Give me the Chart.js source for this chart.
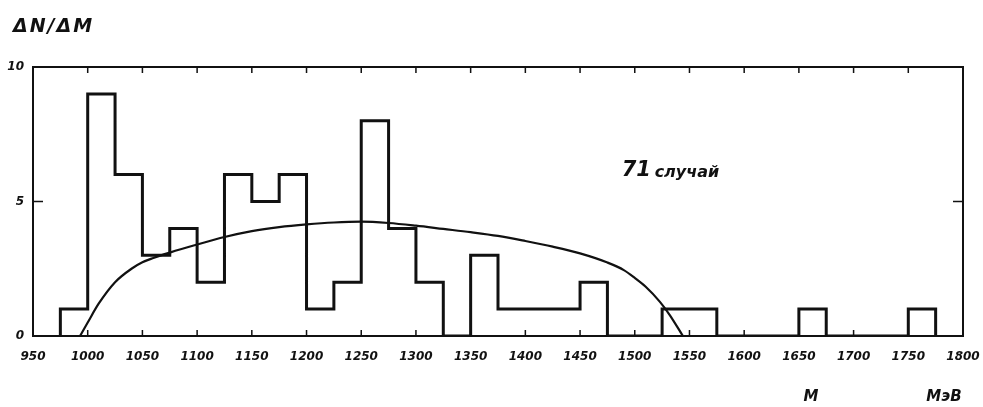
<!DOCTYPE html>
<html>
<head>
<meta charset="utf-8">
<script src="https://cdn.jsdelivr.net/npm/chart.js@4/dist/chart.umd.min.js"></script>
<style>
  body { margin: 0; background: #fff; }
</style>
</head>
<body>
<canvas id="chart" width="983" height="407"></canvas>
<script>
// histogram bin edges (MeV) and number of events per bin
const binEdges = [975, 1000, 1025, 1050, 1075, 1100, 1125, 1150, 1175, 1200, 1225, 1250, 1275, 1300, 1325, 1350,
  1375, 1400, 1425, 1450, 1475, 1500, 1525, 1550, 1575, 1600, 1625, 1650, 1675, 1700, 1725, 1750, 1775];
const binCounts = [1, 9, 6, 3, 4, 2, 6, 5, 6, 1, 2, 8, 4, 2, 0, 3,
  1, 1, 1, 2, 0, 0, 1, 1, 0, 0, 0, 1, 0, 0, 0, 1];

// phase space curve
const curveMass = [993, 1000, 1010, 1025, 1040, 1050, 1060, 1075, 1100, 1125, 1150, 1175, 1200, 1225, 1250,
  1275, 1300, 1325, 1350, 1375, 1400, 1425, 1450, 1475, 1490, 1500, 1510, 1523, 1532, 1544];
const curveValue = [0, 0.5, 1.2, 2.0, 2.5, 2.74, 2.9, 3.1, 3.4, 3.68, 3.9, 4.05, 4.15, 4.22, 4.25,
  4.2, 4.1, 3.98, 3.86, 3.72, 3.53, 3.32, 3.07, 2.73, 2.45, 2.16, 1.83, 1.27, 0.78, 0];

const yTicks = [0, 5, 10];
const xTickLabels = ['950', '1000', '1050', '1100', '1150', '1200', '1250', '1300', '1350',
  '1400', '1450', '1500', '1550', '1600', '1650', '1700', '1750', '1800'];

const ink = '#111';
const labelFont = { family: '"DejaVu Sans"', size: 12, style: 'italic', weight: 'bold' };

const histPoints = [{ x: binEdges[0], y: 0 }];
binCounts.forEach((c, i) => histPoints.push({ x: binEdges[i], y: c }));
histPoints.push({ x: binEdges[binEdges.length - 1], y: 0 });

const curvePoints = curveMass.map((m, i) => ({ x: m, y: curveValue[i] }));

// frame, inward ticks and the hand-lettered captions
const decor = {
  id: 'decor',
  afterDraw(chart) {
    const { ctx, chartArea: a, scales: { x, y } } = chart;
    ctx.save();
    ctx.strokeStyle = ink;
    ctx.lineWidth = 2;
    ctx.strokeRect(a.left, a.top, a.right - a.left, a.bottom - a.top);

    ctx.lineWidth = 1.5;
    ctx.beginPath();
    x.ticks.forEach(t => {
      if (t.value <= 950 || t.value >= 1800) return;
      const px = x.getPixelForValue(t.value);
      ctx.moveTo(px, a.bottom); ctx.lineTo(px, a.bottom - 6);
      ctx.moveTo(px, a.top); ctx.lineTo(px, a.top + 6);
    });
    const py = y.getPixelForValue(5);
    ctx.moveTo(a.left, py); ctx.lineTo(a.left + 10, py);
    ctx.moveTo(a.right, py); ctx.lineTo(a.right - 10, py);
    ctx.stroke();

    ctx.fillStyle = ink;
    ctx.textBaseline = 'middle';
    ctx.font = 'italic bold 19px "DejaVu Sans"';
    ctx.letterSpacing = '2px';
    ctx.fillText('ΔN/ΔM', 13, 27);
    ctx.letterSpacing = '0px';

    const tx = x.getPixelForValue(1488);
    const ty = y.getPixelForValue(6.15);
    ctx.font = 'italic bold 21px "DejaVu Sans"';
    ctx.fillText('71', tx, ty);
    ctx.font = 'italic bold 16px "DejaVu Sans"';
    ctx.fillText('случай', tx + 33, ty + 2);

    ctx.font = 'italic bold 15px "DejaVu Sans"';
    ctx.textAlign = 'center';
    ctx.fillText('M', 811, 397);
    ctx.fillText('МэВ', 944, 397);
    ctx.restore();
  }
};

new Chart(document.getElementById('chart'), {
  type: 'line',
  data: {
    datasets: [
      {
        data: histPoints,
        stepped: 'before',
        borderColor: ink,
        borderWidth: 3,
        pointRadius: 0,
        fill: false
      },
      {
        data: curvePoints,
        borderColor: ink,
        borderWidth: 2.2,
        pointRadius: 0,
        cubicInterpolationMode: 'monotone',
        fill: false
      }
    ]
  },
  options: {
    responsive: false,
    animation: false,
    devicePixelRatio: 1,
    layout: { padding: { top: 67, right: 20, left: 0, bottom: 0 } },
    plugins: { legend: { display: false }, tooltip: { enabled: false } },
    scales: {
      x: {
        type: 'linear',
        min: 950,
        max: 1800,
        afterFit: s => { s.height = 71; s.paddingLeft = 0; s.paddingRight = 0; },
        afterBuildTicks: s => { s.ticks = xTickLabels.map(v => ({ value: Number(v) })); },
        grid: { display: false, drawTicks: false },
        border: { display: false },
        ticks: { padding: 14, color: ink, font: labelFont, maxRotation: 0, autoSkip: false,
          callback: v => String(v) }
      },
      y: {
        min: 0,
        max: 10,
        afterFit: s => { s.width = 33; },
        afterBuildTicks: s => { s.ticks = yTicks.map(v => ({ value: v })); },
        grid: { display: false, drawTicks: false },
        border: { display: false },
        ticks: { padding: 9, color: ink, font: labelFont }
      }
    }
  },
  plugins: [decor]
});
</script>
</body>
</html>
